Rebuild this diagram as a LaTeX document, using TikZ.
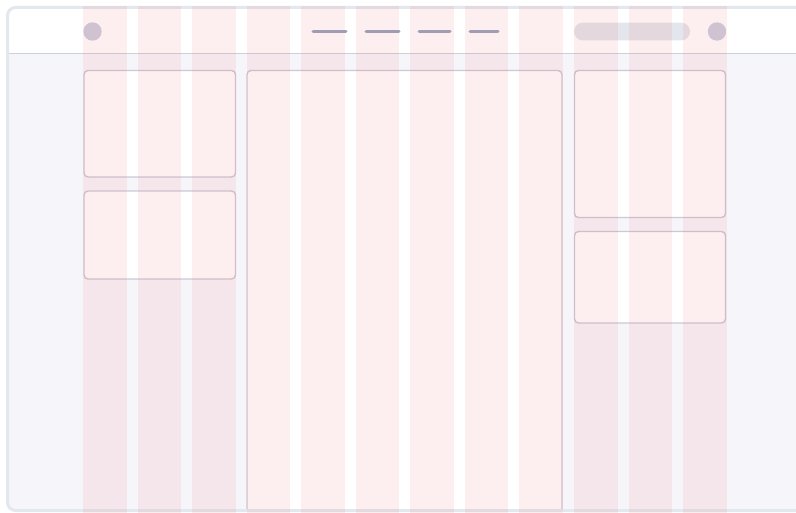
\documentclass[tikz,border=0pt]{standalone}
\definecolor{BodyBg}  {RGB}{245,245,250}
\definecolor{WinLine} {RGB}{226,232,238}
\definecolor{HeadLine}{RGB}{200,210,220}
\definecolor{CardLine}{RGB}{204,200,214}
\definecolor{MenuGray}{RGB}{150,162,188}
\definecolor{DotGray} {RGB}{204,206,222}
\definecolor{PillGray}{RGB}{227,230,236}
\definecolor{GridPink}{RGB}{240,110,110}
\begin{document}
\begin{tikzpicture}[x=1pt,y=-1pt,
    card/.style={draw=CardLine,fill=white,line width=1.4pt,rounded corners=4pt},
    menuline/.style={MenuGray,line width=3pt,line cap=round}]
  \useasboundingbox (0,0) rectangle (796,513);
  \clip (0,0) rectangle (796,513);
  %% Window: lavender body, white header
  \begin{scope}
    \clip[rounded corners=8pt] (7.5,7.5) rectangle (830,510.5);
    \fill[BodyBg] (0,0) rectangle (830,520);
    \fill[white] (0,0) rectangle (830,53);
    %% Left sidebar cards
    \draw[card] (84,70.5) rectangle (235.5,177);
    \draw[card] (84,191) rectangle (235.5,279);
    %% Main content card, runs past the bottom
    \draw[card] (247,70.5) rectangle (562,540);
    %% Right sidebar cards
    \draw[card] (574.5,70.5) rectangle (725.5,217.5);
    \draw[card] (574.5,231.5) rectangle (725.5,323);
  \end{scope}
  \draw[HeadLine,line width=1.5pt] (7.5,53.5) -- (830,53.5);
  \draw[WinLine,line width=3pt,rounded corners=8pt]
       (7.5,7.5) rectangle (830,510.5);
  %% Header: logo dot, menu, search pill, avatar dot
  \fill[DotGray] (92.5,31.5) circle (9.2pt);
  \fill[DotGray] (717,31.5) circle (9.2pt);
  \fill[PillGray,rounded corners=8.8pt] (574,22.7) rectangle (690,40.4);
  \foreach \a/\b in {313/346,366/399,419/450,470/498}
    \draw[menuline] (\a,31.5) -- (\b,31.5);
  %% 12-column grid overlay
  \foreach \i in {0,...,11}
    \fill[GridPink,opacity=0.11] ({83+\i*54.55},6) rectangle ++(43.6,510);
\end{tikzpicture}
\end{document}
